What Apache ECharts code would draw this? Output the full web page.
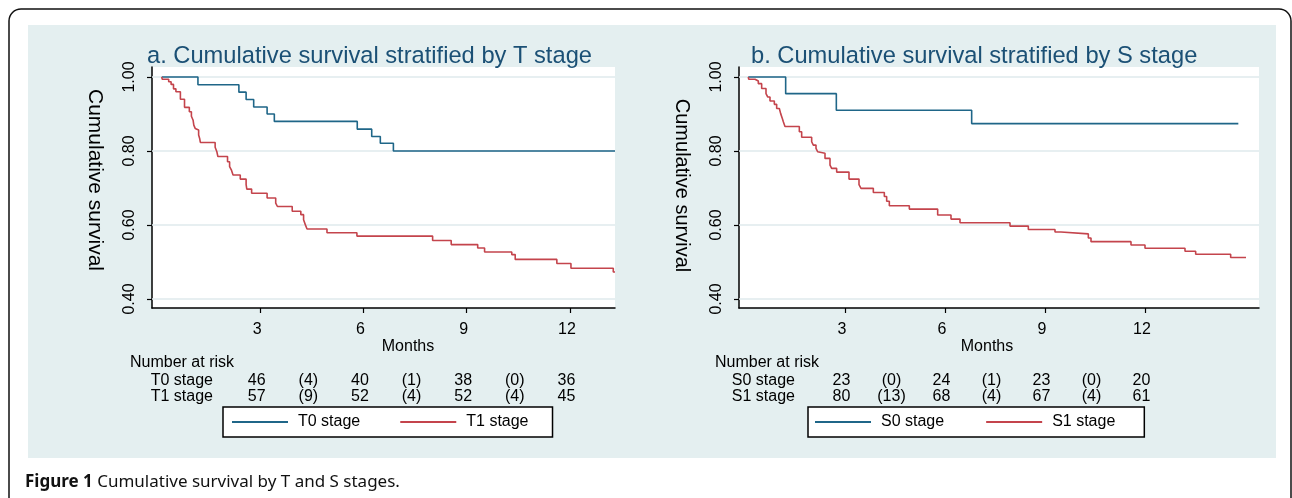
<!DOCTYPE html>
<html><head><meta charset="utf-8">
<script src="https://cdn.jsdelivr.net/npm/echarts@6/dist/echarts.min.js"></script>
<style>html,body{margin:0;padding:0;background:#fff}#c{width:1292px;height:498px}</style>
</head><body><div id="c"></div><script>
// ---------- data ----------
const t0Time = [0.14, 1.19, 2.38, 2.59, 2.81, 3.20, 3.41, 5.82, 6.24, 6.49, 6.87, 13.31];
const t0Surv = [1.000, 0.979, 0.959, 0.939, 0.919, 0.900, 0.880, 0.859, 0.839, 0.821, 0.800, 0.800];
const t1Time = [0.14, 0.15, 0.34, 0.41, 0.48, 0.55, 0.68, 0.80, 0.94, 1.00, 1.05, 1.07, 1.11, 1.16, 1.21, 1.24, 1.26, 1.69, 1.74, 1.77, 2.05, 2.11, 2.16, 2.21, 2.42, 2.59, 2.61, 2.75, 3.20, 3.45, 3.50, 3.93, 4.18, 4.26, 4.31, 4.36, 4.94, 5.81, 8.01, 8.55, 9.32, 9.52, 10.31, 10.41, 11.62, 12.03, 13.26, 13.31];
const t1Surv = [1.000, 0.994, 0.987, 0.980, 0.968, 0.960, 0.940, 0.918, 0.906, 0.894, 0.883, 0.870, 0.861, 0.857, 0.843, 0.834, 0.823, 0.810, 0.798, 0.785, 0.771, 0.758, 0.749, 0.735, 0.724, 0.709, 0.697, 0.686, 0.673, 0.659, 0.650, 0.637, 0.628, 0.614, 0.601, 0.589, 0.579, 0.570, 0.558, 0.547, 0.538, 0.527, 0.520, 0.507, 0.496, 0.483, 0.473, 0.473];
const s0Time = [0.10, 1.22, 2.74, 6.80, 14.80];
const s0Surv = [1.000, 0.955, 0.910, 0.874, 0.874];
const s1Time = [0.10, 0.11, 0.30, 0.40, 0.50, 0.63, 0.68, 0.75, 0.88, 0.95, 1.03, 1.07, 1.12, 1.15, 1.20, 1.63, 1.70, 2.00, 2.05, 2.13, 2.18, 2.23, 2.40, 2.55, 2.60, 2.75, 3.12, 3.42, 3.48, 3.85, 4.18, 4.25, 4.33, 4.93, 5.78, 6.18, 6.45, 7.95, 8.50, 9.30, 9.48, 10.30, 10.38, 11.58, 12.00, 13.20, 13.52, 14.57, 15.03];
const s1Surv = [1.000, 0.994, 0.989, 0.982, 0.969, 0.955, 0.946, 0.935, 0.926, 0.915, 0.910, 0.901, 0.888, 0.879, 0.866, 0.852, 0.837, 0.825, 0.816, 0.807, 0.798, 0.794, 0.780, 0.762, 0.753, 0.743, 0.724, 0.709, 0.699, 0.688, 0.677, 0.664, 0.652, 0.643, 0.627, 0.616, 0.606, 0.597, 0.588, 0.581, 0.576, 0.565, 0.555, 0.546, 0.537, 0.529, 0.521, 0.512, 0.512];

const xTicks = [3, 6, 9, 12];
const yTicks = [0.4, 0.6, 0.8, 1.0];
const riskAt = [3, 4.5, 6, 7.5, 9, 10.5, 12];
const t0Risk = ['46', '(4)', '40', '(1)', '38', '(0)', '36'];
const t1Risk = ['57', '(9)', '52', '(4)', '52', '(4)', '45'];
const s0Risk = ['23', '(0)', '24', '(1)', '23', '(0)', '20'];
const s1Risk = ['80', '(13)', '68', '(4)', '67', '(4)', '61'];
const titleA = 'a. Cumulative survival stratified by T stage';
const titleB = 'b. Cumulative survival stratified by S stage';
const namesA = ['T0 stage', 'T1 stage'];
const namesB = ['S0 stage', 'S1 stage'];

// ---------- style ----------
const FONT = '"Liberation Sans", Arial, Helvetica, sans-serif';
const BLUE = '#1f6688', RED = '#c4444c', NAVY = '#1b5075', GRIDC = '#dfeaed';
const PANEL = '#e4eff0';

const pairs = (t, s) => t.map((x, i) => [x, s[i]]);

const chart = echarts.init(document.getElementById('c'), null, {renderer: 'canvas'});

function xAx(i, min, max, pad) {
  return {
    type: 'value', gridIndex: i, min: min, max: max,
    axisLine: {show: true, onZero: false, lineStyle: {color: '#000', width: 1.5}},
    axisTick: {show: true, customValues: xTicks, length: 5, lineStyle: {color: '#000', width: 1.2}},
    axisLabel: {customValues: xTicks, fontSize: 16, color: '#000', fontFamily: FONT, margin: 14, padding: [0, 6, 0, 0]},
    splitLine: {show: false},
    name: 'Months', nameLocation: 'middle', nameGap: 25,
    nameTextStyle: {fontSize: 16, color: '#000', fontFamily: FONT, padding: pad}
  };
}
function yAx(i, fs, pad) {
  return {
    type: 'value', gridIndex: i, min: 0.3757, max: 1.027,
    axisLine: {show: true, onZero: false, lineStyle: {color: '#000', width: 1.5}},
    axisTick: {show: true, customValues: yTicks, length: 5, lineStyle: {color: '#000', width: 1.2}},
    axisLabel: {customValues: yTicks, rotate: 90, fontSize: 16, color: '#000', fontFamily: FONT, margin: 14,
      formatter: v => Number(v).toFixed(2)},
    splitLine: {show: false},
    name: 'Cumulative survival', nameLocation: 'middle', nameRotate: -90, nameGap: 47,
    nameTextStyle: {fontSize: fs, color: '#000', fontFamily: FONT, padding: pad}
  };
}
function curve(name, data, color, xi) {
  return {
    name: name, type: 'line', xAxisIndex: xi, yAxisIndex: xi, data: data, step: 'end',
    showSymbol: false, symbol: 'none', z: 10, clip: true,
    lineStyle: {color: color, width: 1.6}, itemStyle: {color: color}
  };
}
function gridSeries(xi) {
  return {
    type: 'line', xAxisIndex: xi, yAxisIndex: xi, data: [], z: 1, silent: true,
    markLine: {silent: true, z: 1, symbol: ['none', 'none'], label: {show: false}, animation: false,
      lineStyle: {color: GRIDC, width: 1.5, type: 'solid'},
      data: yTicks.map(v => ({yAxis: v}))}
  };
}
function legend(names, left, pad, gap) {
  return {
    data: names, left: left, top: 407, orient: 'horizontal', icon: 'rect',
    itemWidth: 56, itemHeight: 2, itemGap: gap, padding: pad,
    borderColor: '#000', borderWidth: 1.5, backgroundColor: '#fff', borderRadius: 0,
    selectedMode: false,
    textStyle: {fontSize: 16, color: '#000', fontFamily: FONT, padding: [0, 0, 0, 5]}
  };
}

const option = {
  animation: false,
  backgroundColor: 'transparent',
  title: [
    {text: titleA, left: 147, top: 44, textStyle: {fontSize: 23.7, fontWeight: 'normal', color: NAVY, fontFamily: FONT}, padding: 0},
    {text: titleB, left: 751, top: 44, textStyle: {fontSize: 23.7, fontWeight: 'normal', color: NAVY, fontFamily: FONT}, padding: 0}
  ],
  grid: [
    {left: 152, top: 67, width: 463, height: 241, show: true, backgroundColor: '#fff', borderWidth: 0},
    {left: 739, top: 67, width: 520, height: 241, show: true, backgroundColor: '#fff', borderWidth: 0}
  ],
  xAxis: [xAx(0, -0.145, 13.31, [0, 0, 0, 49]), xAx(1, -0.18, 15.42, [0, 24, 0, 0])],
  yAxis: [yAx(0, 21, [0, 15, 0, 0]), yAx(1, 20, [0, 4, 0, 0])],
  legend: [legend(namesA, 223, [7, 24, 7, 9], 40), legend(namesB, 808, [7, 29, 7, 7], 42)],
  series: [
    gridSeries(0), gridSeries(1),
    curve(namesA[0], pairs(t0Time, t0Surv), BLUE, 0),
    curve(namesA[1], pairs(t1Time, t1Surv), RED, 0),
    curve(namesB[0], pairs(s0Time, s0Surv), BLUE, 1),
    curve(namesB[1], pairs(s1Time, s1Surv), RED, 1)
  ]
};
chart.setOption(option);

// ---------- number-at-risk tables, frame, caption ----------
const txt = (text, x, y, align, extra) => Object.assign({
  type: 'text', x: x, y: y, z: 50,
  style: {text: text, fill: '#000', font: '16px ' + FONT, textAlign: align, textVerticalAlign: 'middle'}
}, extra || {});

const g = [];
g.push({type: 'rect', z: -100, shape: {x: 9, y: 9, width: 1282, height: 560, r: 12},
  style: {fill: '#fff', stroke: '#111', lineWidth: 1.5}});
g.push({type: 'rect', z: -99, shape: {x: 28, y: 25, width: 1248, height: 433}, style: {fill: PANEL}});

function riskTable(xi, names, rows, numLeft, labRight) {
  g.push(txt('Number at risk', numLeft, 363, 'left'));
  rows.forEach((row, r) => {
    const y = 381 + r * 16;
    g.push(txt(names[r], labRight, y, 'right'));
    row.forEach((v, k) => {
      const px = chart.convertToPixel({xAxisIndex: xi}, riskAt[k]) - 3.5;
      g.push(txt(v, px, y, 'center'));
    });
  });
}
riskTable(0, namesA, [t0Risk, t1Risk], 130, 213);
riskTable(1, namesB, [s0Risk, s1Risk], 715, 795);

g.push({type: 'text', x: 25, y: 482, z: 50, style: {
  text: '{b|Figure 1} Cumulative survival by T and S stages.',
  font: '17px "Noto Sans", "Open Sans", sans-serif', fill: '#111', textVerticalAlign: 'middle',
  rich: {b: {fontWeight: 'bold', fontSize: 17, fontFamily: '"Noto Sans", "Open Sans", sans-serif', fill: '#111'}}
}});

chart.setOption({graphic: {elements: g}});
</script></body></html>
